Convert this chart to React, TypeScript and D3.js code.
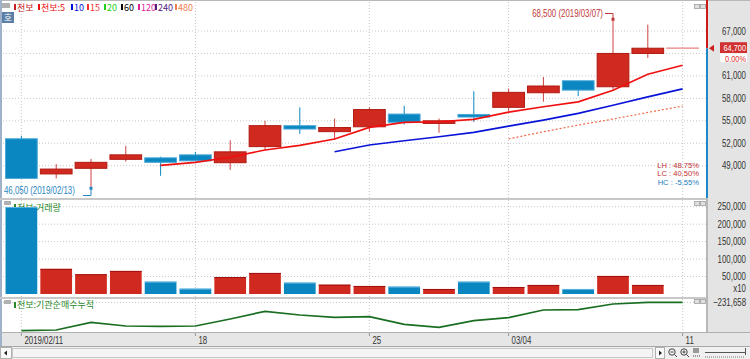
import React from "react";
import * as d3 from "d3";

// 천보 daily candles, 2019/02/11 ~ 2019/03/11
const dates = [
  "2019/02/11", "2019/02/12", "2019/02/13", "2019/02/14", "2019/02/15",
  "2019/02/18", "2019/02/19", "2019/02/20", "2019/02/21", "2019/02/22",
  "2019/02/25", "2019/02/26", "2019/02/27", "2019/02/28", "2019/03/04",
  "2019/03/05", "2019/03/06", "2019/03/07", "2019/03/08", "2019/03/11",
];
const opens = [52600, 47900, 48650, 49850, 50050, 50450, 49400, 51550, 54350, 53550, 54200, 55900, 54650, 55850, 56800, 58750, 60350, 59550, 64000, 64700];
const highs = [53000, 49200, 49900, 51650, 50200, 50850, 52400, 55000, 56800, 55300, 56800, 57000, 55300, 58950, 59300, 60850, 60350, 68500, 67850, 64700];
const lows = [47300, 47300, 46050, 49550, 47650, 49650, 48450, 51100, 53250, 52450, 53550, 54500, 53400, 54850, 56300, 57550, 58300, 59200, 63400, 64700];
const closes = [47300, 48550, 49450, 50450, 49450, 49650, 50850, 54350, 53900, 54100, 56500, 54800, 55000, 55500, 58800, 59650, 59100, 64000, 64700, 64700];

// moving averages (null = not yet defined)
const ma5 = [null, null, null, null, 49040, 49450, 50120, 51100, 51720, 52560, 54120, 54790, 54870, 55190, 56160, 56870, 57530, 59090, 61230, 62430];
const ma10 = [null, null, null, null, null, null, null, null, null, 50870, 51760, 52330, 52870, 53450, 54290, 55090, 55990, 57090, 58200, 59270];
const ma15 = [null, null, null, null, null, null, null, null, null, null, null, null, null, null, 52580, 53530, 54430, 55230, 56120, 56960];

// 거래량 (x10)
const volumes = [249000, 72000, 56600, 66100, 35300, 15200, 48500, 60300, 32500, 26700, 23000, 21000, 14400, 35300, 20100, 25900, 14400, 51700, 25900, 0];

// 기관순매수누적
const instCum = [-1083700, -1062700, -831700, -942700, -951700, -942700, -732700, -501700, -612700, -681700, -663700, -891700, -981700, -783700, -693700, -462700, -453700, -282700, -231658, -231658];

const priceTicks = [49000, 52000, 55000, 58000, 61000, 64000, 67000];
const volTicks = [50000, 100000, 150000, 200000, 250000];
const dateTicks = [
  { i: 0, label: "2019/02/11" },
  { i: 5, label: "18" },
  { i: 10, label: "25" },
  { i: 14, label: "03/04" },
  { i: 19, label: "11" },
];
const legendItems = [
  { label: "천보", color: "#c82020", x: 14 },
  { label: "천보:5", color: "#e81010", x: 38 },
  { label: "10", color: "#0010d8", x: 71 },
  { label: "15", color: "#ee3030", x: 87 },
  { label: "20", color: "#20d020", x: 104 },
  { label: "60", color: "#000000", x: 121 },
  { label: "120", color: "#dd2299", x: 138 },
  { label: "240", color: "#502080", x: 155 },
  { label: "480", color: "#f08050", x: 175 },
];

const NUM = "'Liberation Sans', Arial, sans-serif";
const KR = "'Noto Sans CJK KR', sans-serif";

const RED = "#d0291f";
const RED_DARK = "#b01a12";
const BLUE = "#0a86c0";

// narrow numeric text (HTS style)
const NText = ({ x, y, anchor = "start", fill = "#333", size = 10.5, sx = 0.75, children }: any) => (
  <text
    transform={`translate(${x},${y}) scale(${sx},1)`}
    textAnchor={anchor}
    fontFamily={NUM}
    fontSize={size}
    fill={fill}
  >
    {children}
  </text>
);

export default function App() {
  const W = 750;
  const H = 359;
  const plotR = 706;

  const x = d3.scaleBand<number>()
    .domain(d3.range(dates.length))
    .range([4, 700])
    .paddingInner(0.06)
    .paddingOuter(0.03);
  const bw = x.bandwidth();
  const cx = (i: number) => (x(i) as number) + bw / 2;

  const y = d3.scaleLinear().domain([49000, 67000]).range([165.7, 31]);
  const yv = d3.scaleLinear().domain([0, 250000]).range([294, 206.7]);
  const yi = d3.scaleLinear().domain([-1083700, -231658]).range([330.7, 302.3]);

  const maLine = d3.line<number | null>()
    .defined((d) => d != null)
    .x((_, i) => cx(i))
    .y((d) => y(d as number));
  const instLine = d3.line<number>().x((_, i) => cx(i)).y((d) => yi(d));

  const fmt = d3.format(",d");
  const last = closes[closes.length - 1];
  const yLast = y(last);
  const hiIdx = highs.indexOf(d3.max(highs) as number);
  const loIdx = lows.indexOf(d3.min(lows) as number);
  const hi = highs[hiIdx];
  const lo = lows[loIdx];
  const pct = (v: number) => `${(v * 100).toFixed(2)}%`;

  return (
    <svg
      width={W}
      height={H}
      style={{ position: "absolute", left: 0, top: 0, background: "#fff" }}
    >
      {/* right axis panel + bottom bands */}
      <rect x={708} y={0} width={42} height={332} fill="#e4e4e4" />
      <rect x={0} y={332} width={W} height={14} fill="#e6e6e6" />
      <line x1={0} x2={W} y1={0.5} y2={0.5} stroke="#b8b8b8" />
      <line x1={1} x2={1} y1={0} y2={346} stroke="#9fb2c8" strokeWidth={2} />

      {/* panel separators */}
      <rect x={0} y={198} width={708} height={2} fill="#c8c8c8" />
      <rect x={0} y={297} width={708} height={2} fill="#c8c8c8" />
      <line x1={0} x2={W} y1={332.5} y2={332.5} stroke="#b0b0b0" />
      <line x1={707} x2={707} y1={198} y2={332} stroke="#b8b8b8" strokeWidth={2} />

      {/* vertical date grid */}
      {dateTicks.map((t) => (
        <line key={t.i} x1={cx(t.i)} x2={cx(t.i)} y1={2} y2={332}
          stroke="#c8c8c8" strokeDasharray="1,2" />
      ))}
      {/* horizontal grids */}
      {priceTicks.map((p) => (
        <line key={p} x1={3} x2={plotR} y1={y(p)} y2={y(p)} stroke="#c8c8c8" strokeDasharray="1,2" />
      ))}
      {volTicks.map((v) => (
        <line key={v} x1={3} x2={plotR} y1={yv(v)} y2={yv(v)} stroke="#c8c8c8" strokeDasharray="1,2" />
      ))}
      <line x1={3} x2={plotR} y1={302.5} y2={302.5} stroke="#c8c8c8" strokeDasharray="1,2" />

      {/* main panel title */}
      <rect x={2} y={3} width={8} height={5} fill="#b0b0b0" />
      {legendItems.map((l) => (
        <g key={l.label}>
          <rect x={l.x} y={4} width={2} height={6} fill={l.color} />
          <text x={l.x + 3} y={11} fontFamily={KR} fontSize={9} fill={l.color}>{l.label}</text>
        </g>
      ))}
      <rect x={2} y={12} width={12} height={11} fill="#5a7ea6" />
      <text x={8} y={21} fontFamily={KR} fontSize={9} fill="#fff" textAnchor="middle">호</text>

      {/* candles */}
      {dates.map((d, i) => {
        const o = opens[i];
        const c = closes[i];
        const up = c >= o;
        const x0 = x(i) as number;
        if (highs[i] === lows[i]) {
          return (
            <line key={d} x1={x0} x2={x0 + bw} y1={y(c)} y2={y(c)} stroke="#e88080" strokeWidth={1.2} />
          );
        }
        const top = y(Math.max(o, c));
        const bot = y(Math.min(o, c));
        return (
          <g key={d}>
            <line x1={cx(i)} x2={cx(i)} y1={y(highs[i])} y2={y(lows[i])}
              stroke={up ? "#d04040" : BLUE} strokeWidth={1} />
            <rect x={x0 + 0.5} y={top} width={bw - 1} height={Math.max(bot - top, 1.5)}
              fill={up ? RED : BLUE} stroke={up ? RED_DARK : "#4aa8d8"} strokeWidth={1} />
          </g>
        );
      })}

      {/* moving averages */}
      <path d={maLine(ma15) as string} fill="none" stroke="#f06a48" strokeWidth={1.2} strokeDasharray="2,2" />
      <path d={maLine(ma10) as string} fill="none" stroke="#0a14d8" strokeWidth={1.6} />
      <path d={maLine(ma5) as string} fill="none" stroke="#f01010" strokeWidth={1.6} />

      {/* high / low annotations */}
      <NText x={603} y={17} anchor="end" fill="#c03a3a">{`${fmt(hi)} (${dates[hiIdx]})`}</NText>
      <path d={`M605,13.5H${cx(hiIdx)}V${y(hi)}`} fill="none" stroke="#c03a3a" />
      <rect x={cx(hiIdx) - 1.5} y={y(hi) - 2} width={3} height={3} fill="#c03a3a" />
      <NText x={4} y={194} fill="#2a86c0">{`${fmt(lo)} (${dates[loIdx]})`}</NText>
      <path d={`M83,195.5H${cx(loIdx)}V${y(lo)}`} fill="none" stroke="#2a86c0" />
      <rect x={cx(loIdx) - 1.5} y={y(lo) - 1} width={3} height={3} fill="#2a86c0" />

      {/* LH / LC / HC */}
      <NText x={699} y={167.5} anchor="end" size={8} sx={0.95} fill="#c03030">{`LH : ${pct(hi / lo - 1)}`}</NText>
      <NText x={699} y={176} anchor="end" size={8} sx={0.95} fill="#c03030">{`LC : ${pct(last / lo - 1)}`}</NText>
      <NText x={699} y={184.5} anchor="end" size={8} sx={0.95} fill="#2080c0">{`HC : ${pct(last / hi - 1)}`}</NText>

      {/* price axis; tick labels under the current-price box are hidden */}
      <line x1={707} x2={707} y1={0} y2={yLast} stroke="#cc1a1a" strokeWidth={2} />
      <line x1={707} x2={707} y1={yLast} y2={198} stroke="#1e88c8" strokeWidth={2} />
      {priceTicks.filter((p) => Math.abs(y(p) - yLast) > 12).map((p) => (
        <NText key={p} x={746} y={y(p) + 3.5} anchor="end">{fmt(p)}</NText>
      ))}
      <polygon points={`709,${yLast} 714,${yLast - 3.5} 714,${yLast + 3.5}`} fill="#d02020" />
      <rect x={720} y={yLast - 6} width={27} height={11} fill="#d03030" />
      <NText x={746} y={yLast + 3} anchor="end" size={9} sx={0.82} fill="#fff">{fmt(last)}</NText>
      <rect x={720} y={yLast + 5} width={27} height={9} fill="#fff" />
      <NText x={746} y={yLast + 13.5} anchor="end" size={9} sx={0.82} fill="#e03030">
        {pct(last / closes[closes.length - 2] - 1)}
      </NText>

      {/* volume panel */}
      <rect x={4} y={201} width={7} height={4} fill="#b0b0b0" />
      <rect x={14} y={204} width={2} height={6} fill="#2a8a2a" />
      <text x={17} y={211} fontFamily={KR} fontSize={9} fill="#2a8a2a">천보:거래량</text>
      {volumes.map((v, i) => {
        if (v <= 0) return null;
        const up = closes[i] >= opens[i];
        return (
          <g key={dates[i]}>
            <rect x={(x(i) as number) + 0.5} y={yv(v)} width={bw - 1} height={yv(0) - yv(v)}
              fill={up ? RED : BLUE} />
            <line x1={(x(i) as number) + 0.5} x2={(x(i) as number) + bw - 0.5} y1={yv(v) + 0.5} y2={yv(v) + 0.5}
              stroke={up ? "#a01010" : "#5ab4e0"} />
          </g>
        );
      })}
      {volTicks.map((v) => (
        <NText key={v} x={746} y={yv(v) + 3.5} anchor="end">{fmt(v)}</NText>
      ))}
      <NText x={746} y={292} anchor="end">x10</NText>

      {/* indicator panel */}
      <rect x={4} y={300} width={7} height={4} fill="#b0b0b0" />
      <rect x={14} y={302} width={2} height={6} fill="#2a8a2a" />
      <text x={17} y={308} fontFamily={KR} fontSize={9} fill="#2a8a2a">천보:기관순매수누적</text>
      <path d={instLine(instCum) as string} fill="none" stroke="#1a6e22" strokeWidth={1.7} />
      <NText x={746} y={306} anchor="end">{fmt(instCum[instCum.length - 1])}</NText>

      {/* panel buttons */}
      {[4, 201, 299].map((yy) => (
        <g key={yy}>
          <rect x={694.5} y={yy + 0.5} width={5} height={4} fill="#e0e0e0" stroke="#a0a0a0" strokeWidth={0.8} />
          <rect x={700.5} y={yy + 0.5} width={5} height={4} fill="#e0e0e0" stroke="#a0a0a0" strokeWidth={0.8} />
        </g>
      ))}

      {/* date axis */}
      {dateTicks.map((t) => (
        <g key={t.label}>
          <line x1={cx(t.i)} x2={cx(t.i)} y1={333} y2={336} stroke="#999" />
          <NText x={cx(t.i) + 3} y={344}>{t.label}</NText>
        </g>
      ))}

      {/* scrollbar */}
      <rect x={0} y={346} width={W} height={13} fill="#f0f0f0" />
      <line x1={0} x2={W} y1={346.5} y2={346.5} stroke="#a8a8a8" />
      <rect x={12.5} y={348.5} width={640} height={9} fill="#f4f4f4" stroke="#c8c8c8" />
      <rect x={0.5} y={347.5} width={11} height={11} fill="#fafafa" stroke="#b0b0b0" />
      <polygon points="4,353 7,350.5 7,355.5" fill="#222" />
      <rect x={655.5} y={347.5} width={9} height={11} fill="#fafafa" stroke="#b0b0b0" />
      <polygon points="662,353 659,350.5 659,355.5" fill="#222" />
      <circle cx={672} cy={352} r={3.2} fill="none" stroke="#444" />
      <line x1={670.5} x2={673.5} y1={352} y2={352} stroke="#444" />
      <line x1={674.5} x2={677} y1={354.5} y2={357} stroke="#444" />
      <circle cx={684} cy={352} r={3.2} fill="none" stroke="#444" />
      <line x1={682.5} x2={685.5} y1={352} y2={352} stroke="#444" />
      <line x1={684} x2={684} y1={350.5} y2={353.5} stroke="#444" />
      <line x1={686.5} x2={689} y1={354.5} y2={357} stroke="#444" />
      {[694, 696, 698].map((xx) => (
        <line key={xx} x1={xx} x2={xx} y1={348} y2={353} stroke="#444" />
      ))}
      <line x1={693} x2={700} y1={356} y2={356} stroke="#444" strokeDasharray="1,1" />
      <line x1={705} x2={745} y1={352.5} y2={352.5} stroke="#555" />
      <line x1={705} x2={745} y1={357} y2={357} stroke="#777" strokeDasharray="1,1" />
      <line x1={745.5} x2={745.5} y1={348} y2={355} stroke="#555" />
    </svg>
  );
}
